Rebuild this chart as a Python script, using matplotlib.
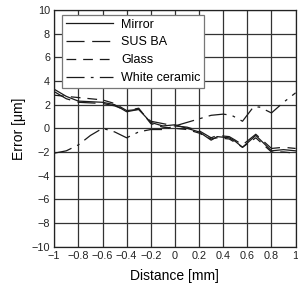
import matplotlib
matplotlib.use("Agg")
import matplotlib.pyplot as plt

plt.rcParams['font.family'] = ['Liberation Sans', 'DejaVu Sans']
plt.rcParams['lines.scale_dashes'] = False
plt.rcParams['axes.unicode_minus'] = True

# data
x_cluster = [-1, -0.9, -0.8, -0.6, -0.5, -0.4, -0.3, -0.2, -0.1, 0, 0.1, 0.2, 0.3, 0.35, 0.45, 0.5, 0.56, 0.67, 0.8, 0.9, 1.0]
mirror = [3.3, 2.7, 2.3, 2.2, 2.0, 1.4, 1.6, 0.5, 0.2, 0.3, 0.0, -0.3, -1.0, -0.7, -0.8, -1.1, -1.6, -0.6, -1.9, -1.8, -1.9]
sus_ba = [3.1, 2.5, 2.2, 2.1, 1.9, 1.5, 1.6, 0.6, 0.4, 0.2, 0.1, -0.2, -0.8, -0.6, -0.7, -1.0, -1.4, -0.5, -1.7, -1.6, -1.7]
glass = [2.8, 2.7, 2.6, 2.4, 2.1, 1.5, 1.7, 0.4, 0.1, 0.0, -0.1, -0.4, -0.9, -0.8, -0.9, -1.2, -1.6, -0.8, -2.0, -2.0, -2.1]
x_white = [-1, -0.9, -0.8, -0.7, -0.6, -0.5, -0.4, -0.3, -0.2, -0.1, 0, 0.1, 0.2, 0.3, 0.4, 0.47, 0.56, 0.65, 0.7, 0.8, 0.9, 1.0]
white = [-2.1, -1.9, -1.4, -0.6, 0.0, -0.3, -0.8, -0.3, -0.1, -0.1, 0.2, 0.5, 0.8, 1.1, 1.2, 1.1, 0.6, 1.8, 1.8, 1.3, 2.2, 3.0]

labels = ["Mirror", "SUS BA", "Glass", "White ceramic"]
xticks = [-1, -0.8, -0.6, -0.4, -0.2, 0, 0.2, 0.4, 0.6, 0.8, 1]
xticklabels = ["\u22121", "\u22120.8", "\u22120.6", "\u22120.4", "\u22120.2", "0", "0.2", "0.4", "0.6", "0.8", "1"]
yticks = [-10, -8, -6, -4, -2, 0, 2, 4, 6, 8, 10]

fig = plt.figure(figsize=(2.98, 2.93), dpi=100)
ax = fig.add_axes([0.182, 0.158, 0.81, 0.808])

lw = 0.9
col = '#1a1a1a'
ax.plot(x_cluster, mirror, color=col, lw=lw, label=labels[0])
l2, = ax.plot(x_cluster, sus_ba, color=col, lw=lw, label=labels[1])
l2.set_dashes((13, 5.5))
l3, = ax.plot(x_cluster, glass, color=col, lw=lw, label=labels[2])
l3.set_dashes((7, 5))
l4, = ax.plot(x_white, white, color=col, lw=lw, label=labels[3])
l4.set_dashes((13, 4.5, 2, 4.5))

ax.set_xlim(-1, 1)
ax.set_ylim(-10, 10)
ax.set_xticks(xticks)
ax.set_xticklabels(xticklabels)
ax.set_yticks(yticks)
ax.set_yticklabels([("\u2212" + str(-v)) if v < 0 else str(v) for v in yticks])
ax.tick_params(length=0, labelsize=7.8, pad=3, colors='#222222')
ax.grid(True, color='#333333', lw=0.9)
ax.set_axisbelow(True)
for s in ax.spines.values():
    s.set_color('#222222')
    s.set_linewidth(0.9)

ax.set_xlabel("Distance [mm]", fontsize=10, labelpad=6)
ax.set_ylabel("Error [\u03bcm]", fontsize=10, labelpad=4)

leg = ax.legend(loc='upper left', bbox_to_anchor=(0.032, 0.979), fontsize=9,
                handlelength=3.75, handletextpad=0.7, labelspacing=0.46,
                borderpad=0.3, borderaxespad=0, fancybox=False, framealpha=1,
                edgecolor='#777777')
leg.get_frame().set_linewidth(0.9)

fig.savefig("out.png", dpi=100)
